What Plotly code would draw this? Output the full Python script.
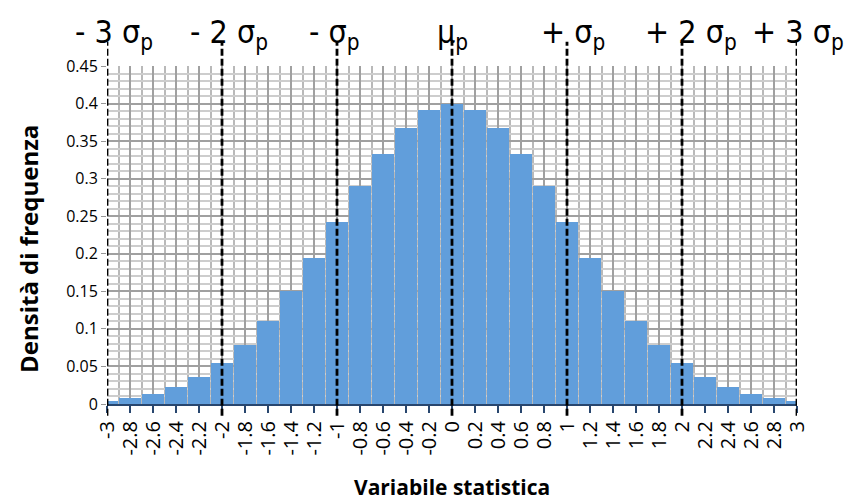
import plotly.graph_objects as go

# Bin centres (variabile statistica) and density values
x_vals = [-3.0, -2.8, -2.6, -2.4, -2.2, -2.0, -1.8, -1.6, -1.4, -1.2, -1.0,
          -0.8, -0.6, -0.4, -0.2, 0.0, 0.2, 0.4, 0.6, 0.8, 1.0,
          1.2, 1.4, 1.6, 1.8, 2.0, 2.2, 2.4, 2.6, 2.8, 3.0]
density = [0.0044, 0.0079, 0.0136, 0.0224, 0.0355, 0.054, 0.079, 0.111, 0.150, 0.194, 0.242,
           0.290, 0.333, 0.368, 0.391, 0.399, 0.391, 0.368, 0.333, 0.290, 0.242,
           0.194, 0.150, 0.111, 0.079, 0.054, 0.0355, 0.0224, 0.0136, 0.0079, 0.0044]
tick_text = ["-3", "-2.8", "-2.6", "-2.4", "-2.2", "-2", "-1.8", "-1.6", "-1.4", "-1.2", "-1",
             "-0.8", "-0.6", "-0.4", "-0.2", "0", "0.2", "0.4", "0.6", "0.8", "1",
             "1.2", "1.4", "1.6", "1.8", "2", "2.2", "2.4", "2.6", "2.8", "3"]

# Sigma reference lines and their labels
sigma_pos = [-3, -2, -1, 0, 1, 2, 3]
sigma_labels = ["- 3 σ<sub>p</sub>", "- 2 σ<sub>p</sub>", "- σ<sub>p</sub>", "μ<sub>p</sub>",
                "+ σ<sub>p</sub>", "+ 2 σ<sub>p</sub>", "+ 3 σ<sub>p</sub>"]
label_shift = [7, 7, -3, 0, 6, 9, 1]

fig = go.Figure()
fig.add_trace(go.Bar(
    x=x_vals, y=density, width=0.186,
    marker=dict(color="rgb(97,158,219)", line=dict(width=0)),
    showlegend=False,
))

for xp in sigma_pos:
    fig.add_shape(type="line", xref="x", yref="paper", x0=xp, x1=xp,
                  y0=-0.035, y1=1.072,
                  line=dict(color="black", width=2.8, dash="7px,3px"), layer="above")

for xp, lab, sh in zip(sigma_pos, sigma_labels, label_shift):
    fig.add_annotation(x=xp, xref="x", y=1.094, yref="paper", text=lab,
                       showarrow=False, xanchor="center", yanchor="middle", xshift=sh,
                       font=dict(family="DejaVu Sans Condensed", size=32, color="black"))

fig.add_annotation(x=(28 - 107) / 690, xref="paper", y=(404 - 249) / 338, yref="paper",
                   text="<b>Densità di frequenza</b>", textangle=-90, showarrow=False,
                   xanchor="center", yanchor="middle",
                   font=dict(family="Open Sans", size=24, color="black"))
fig.add_annotation(x=0.5, xref="paper", y=(404 - 487) / 338, yref="paper",
                   text="<b>Variabile statistica</b>", showarrow=False,
                   xanchor="center", yanchor="middle",
                   font=dict(family="Open Sans", size=21, color="black"))

fig.update_layout(
    width=846, height=503,
    margin=dict(l=107, r=49, t=66, b=99),
    paper_bgcolor="white", plot_bgcolor="white",
    bargap=0,
    xaxis=dict(
        range=[-3, 3], tickmode="array", tickvals=x_vals, ticktext=tick_text,
        tickangle=-90, ticks="outside", ticklen=7, tickwidth=1.5, tickcolor="rgb(40,70,110)",
        showline=True, linecolor="rgb(40,70,110)", linewidth=2,
        showgrid=True, gridcolor="rgb(160,160,160)", gridwidth=1.5,
        minor=dict(tickmode="linear", tick0=-2.9, dtick=0.2, showgrid=True,
                   gridcolor="rgb(185,185,185)", gridwidth=1.5, ticks=""),
        tickfont=dict(family="Open Sans", size=20, color="black"),
        zeroline=False, fixedrange=True, automargin=False,
    ),
    yaxis=dict(
        range=[0, 0.45], dtick=0.05, tick0=0,
        ticks="outside", ticklen=5, tickcolor="rgb(150,150,150)",
        showline=False,
        showgrid=True, gridcolor="rgb(160,160,160)", gridwidth=1.5,
        minor=dict(dtick=0.01, showgrid=True, gridcolor="rgb(205,205,205)", gridwidth=1.5, ticks=""),
        tickfont=dict(family="Open Sans", size=16, color="black"),
        zeroline=False, fixedrange=True, automargin=False,
    ),
)

fig.write_html("out.html", config={"displayModeBar": False},
               post_script="document.body.style.margin='0';")
